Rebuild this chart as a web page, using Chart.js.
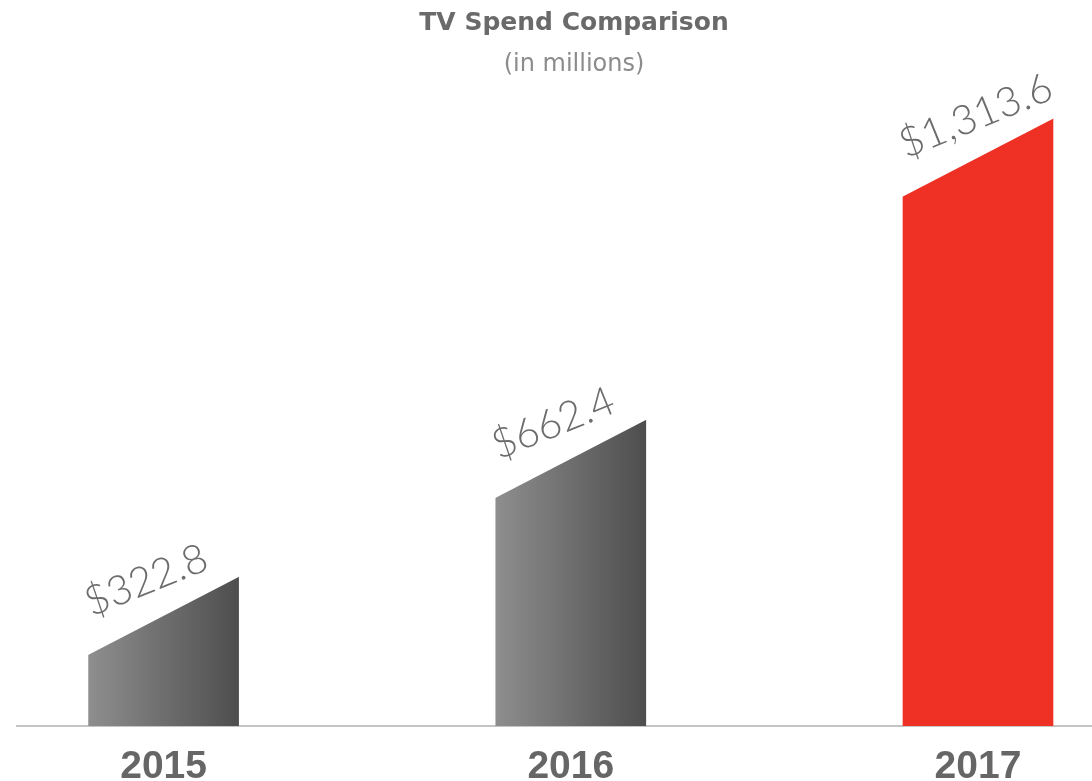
<!DOCTYPE html>
<html>
<head>
<meta charset="utf-8">
<title>TV Spend Comparison</title>
<script src="https://cdn.jsdelivr.net/npm/chart.js@4/dist/chart.umd.min.js"></script>
<style>
  html, body { margin: 0; padding: 0; background: #fff; }
  #wrap { width: 1092px; height: 781px; }
</style>
</head>
<body>
<div id="wrap"><canvas id="tv-spend-chart"></canvas></div>
<script>
/* chart data */
let years = ['2015', '2016', '2017']
let spend = [322.8, 662.4, 1313.6]   // $ millions
let highlight = [false, false, true]

let titleText = 'TV Spend Comparison'
let subtitleText = '(in millions)'

/* colours */
let barRed = '#ee3124'
let greyLeft = '#8e8e8e'
let greyRight = '#4e4e4e'
let labelGrey = '#6c6c6c'

let slantDrop = 78   // how far the left corner of each bar top is cut down (px)

function formatMoney(v) {
    return '$' + v.toLocaleString('en-US', { minimumFractionDigits: 1, maximumFractionDigits: 1 })
}

function barColor(context) {
    let chart = context.chart
    let i = context.dataIndex
    if (highlight[i]) return barRed
    if (!chart.chartArea) return greyRight
    let x = chart.scales.x.getPixelForValue(i)
    let half = context.dataset.barThickness / 2
    let g = chart.ctx.createLinearGradient(x - half, 0, x + half, 0)
    g.addColorStop(0, greyLeft)
    g.addColorStop(1, greyRight)
    return g
}

// cuts the slanted top off each bar and writes the value along it
let slantTops = {
    id: 'slantTops',
    afterDatasetsDraw(chart) {
        let ctx = chart.ctx
        let meta = chart.getDatasetMeta(0)
        ctx.save()
        meta.data.forEach(function(bar, i) {
            let left = bar.x - bar.width / 2
            let right = bar.x + bar.width / 2
            ctx.fillStyle = '#ffffff'
            ctx.beginPath()
            ctx.moveTo(left - 2, bar.y - 2)
            ctx.lineTo(right + 2, bar.y - 2)
            ctx.lineTo(right + 0.5, bar.y)
            ctx.lineTo(left - 2, bar.y + slantDrop + 1)
            ctx.closePath()
            ctx.fill()

            ctx.save()
            ctx.translate(left + 3, bar.y + slantDrop - 38)
            ctx.rotate(-22 * Math.PI / 180)
            ctx.fillStyle = labelGrey
            ctx.font = '300 41px Lato, "Open Sans", sans-serif'
            ctx.textAlign = 'left'
            ctx.textBaseline = 'alphabetic'
            ctx.fillText(formatMoney(spend[i]), 0, 0)
            ctx.restore()
        })
        ctx.restore()
    },
    afterDraw(chart) {
        let ctx = chart.ctx
        ctx.save()
        ctx.textAlign = 'center'
        ctx.textBaseline = 'middle'
        ctx.fillStyle = '#6a6a6a'
        ctx.font = 'bold 25px "DejaVu Sans", sans-serif'
        ctx.fillText(titleText, 574, 23)
        ctx.fillStyle = '#8c8c8c'
        ctx.font = '24px "DejaVu Sans", sans-serif'
        ctx.fillText(subtitleText, 574, 65)
        ctx.restore()
    }
}

let ctx = document.querySelector('#tv-spend-chart').getContext('2d')

let spendChart = new Chart(ctx, {
    type: 'bar',
    data: {
        datasets: [{
            data: spend.map(function(v, i) { return { x: i, y: v } }),
            backgroundColor: barColor,
            borderWidth: 0,
            barThickness: 150
        }]
    },
    options: {
        responsive: true,
        maintainAspectRatio: false,
        animation: false,
        layout: { padding: { left: 17, right: 0, top: 0, bottom: -20 } },
        plugins: {
            legend: { display: false },
            tooltip: { enabled: false },
            title: { display: false }
        },
        scales: {
            x: {
                type: 'linear',
                offset: false,
                min: -0.36,
                max: 2.28,
                grid: { display: false, offset: false },
                border: { display: true, color: '#c4c4c4', width: 2 },
                afterBuildTicks: function(scale) {
                    scale.ticks = years.map(function(y, i) { return { value: i } })
                },
                ticks: {
                    autoSkip: false,
                    maxRotation: 0,
                    padding: 14,
                    color: '#666666',
                    font: { family: '"Liberation Sans Narrow", "Liberation Sans", Arial, sans-serif', size: 39, weight: 'bold', lineHeight: 1.0 },
                    callback: function(value) { return years[value] }
                }
            },
            y: {
                display: false,
                min: 0,
                max: 1570
            }
        }
    },
    plugins: [slantTops]
})
</script>
</body>
</html>
